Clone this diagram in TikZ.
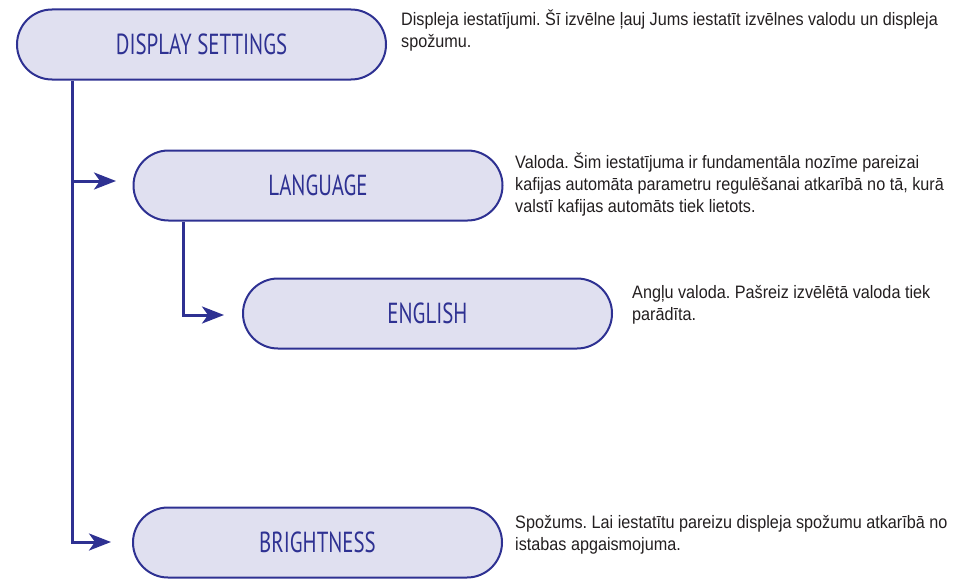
\documentclass[tikz,border=0pt]{standalone}
\usepackage{fontspec}
\usetikzlibrary{shapes.misc,arrows.meta}
\newfontfamily\boxfont[FakeStretch=0.72]{PT Sans}
\newfontfamily\descfont[FakeStretch=0.9]{Liberation Sans}
\definecolor{menublue}{HTML}{2E3192}
\definecolor{menufill}{HTML}{E0E0F0}
\definecolor{desctext}{HTML}{231F20}
\newcommand{\toprule}{\rule{0pt}{16pt}}
\frenchspacing
\tikzset{
  menubox/.style={rounded rectangle, draw=menublue, fill=menufill, line width=2pt,
    minimum width=369pt, minimum height=70pt, inner sep=0pt,
    text=menublue, font=\boxfont\fontsize{29}{30}\selectfont},
  desc/.style={anchor=north west, align=left, inner sep=0pt, text=desctext,
    font=\descfont\fontsize{18}{22}\selectfont\frenchspacing},
  link/.style={draw=menublue, line width=3pt},
  linkarrow/.style={link, -{Stealth[length=22pt,width=17pt,inset=6pt]}}
}
\begin{document}
\begin{tikzpicture}[x=1pt,y=-1pt]
\useasboundingbox (0,0) rectangle (955,578);
\node[menubox] (ds) at (201.5,44.5) {DISPLAY SETTINGS};
\node[menubox] (lang) at (318,185.5) {LANGUAGE};
\node[menubox] (eng) at (427.5,313.5) {ENGLISH};
\node[menubox] (bri) at (317.5,542.5) {BRIGHTNESS};

\node[desc] (dsd) at (401,9) {\toprule Displeja iestatījumi. Šī izvēlne ļauj Jums iestatīt izvēlnes valodu un displeja\\spožumu.};
\node[desc] (langd) at (515,152) {\toprule Valoda. Šim iestatījuma ir fundamentāla nozīme pareizai\\kafijas automāta parametru regulēšanai atkarībā no tā, kurā\\valstī kafijas automāts tiek lietots.};
\node[desc] (engd) at (632,282) {\toprule Angļu valoda. Pašreiz izvēlētā valoda tiek\\parādīta.};
\node[desc] (brid) at (515,512) {\toprule Spožums. Lai iestatītu pareizu displeja spožumu atkarībā no\\istabas apgaismojuma.};

\coordinate (t1) at (72,0 |- ds.south);
\coordinate (t1l) at (72,181);
\coordinate (t1b) at (72,542);
\coordinate (a1) at (116,181);
\coordinate (a2) at (111,542);
\coordinate (t2) at (183,0 |- lang.south);
\coordinate (t2b) at (183,315);
\coordinate (a3) at (224,315);

\draw[link] (t1) -- (t1b);
\draw[linkarrow] (t1l) -- (a1);
\draw[linkarrow] ([yshift=-1.5pt]t1b) |- (a2);
\draw[linkarrow] (t2) |- (a3);
\end{tikzpicture}
\end{document}
